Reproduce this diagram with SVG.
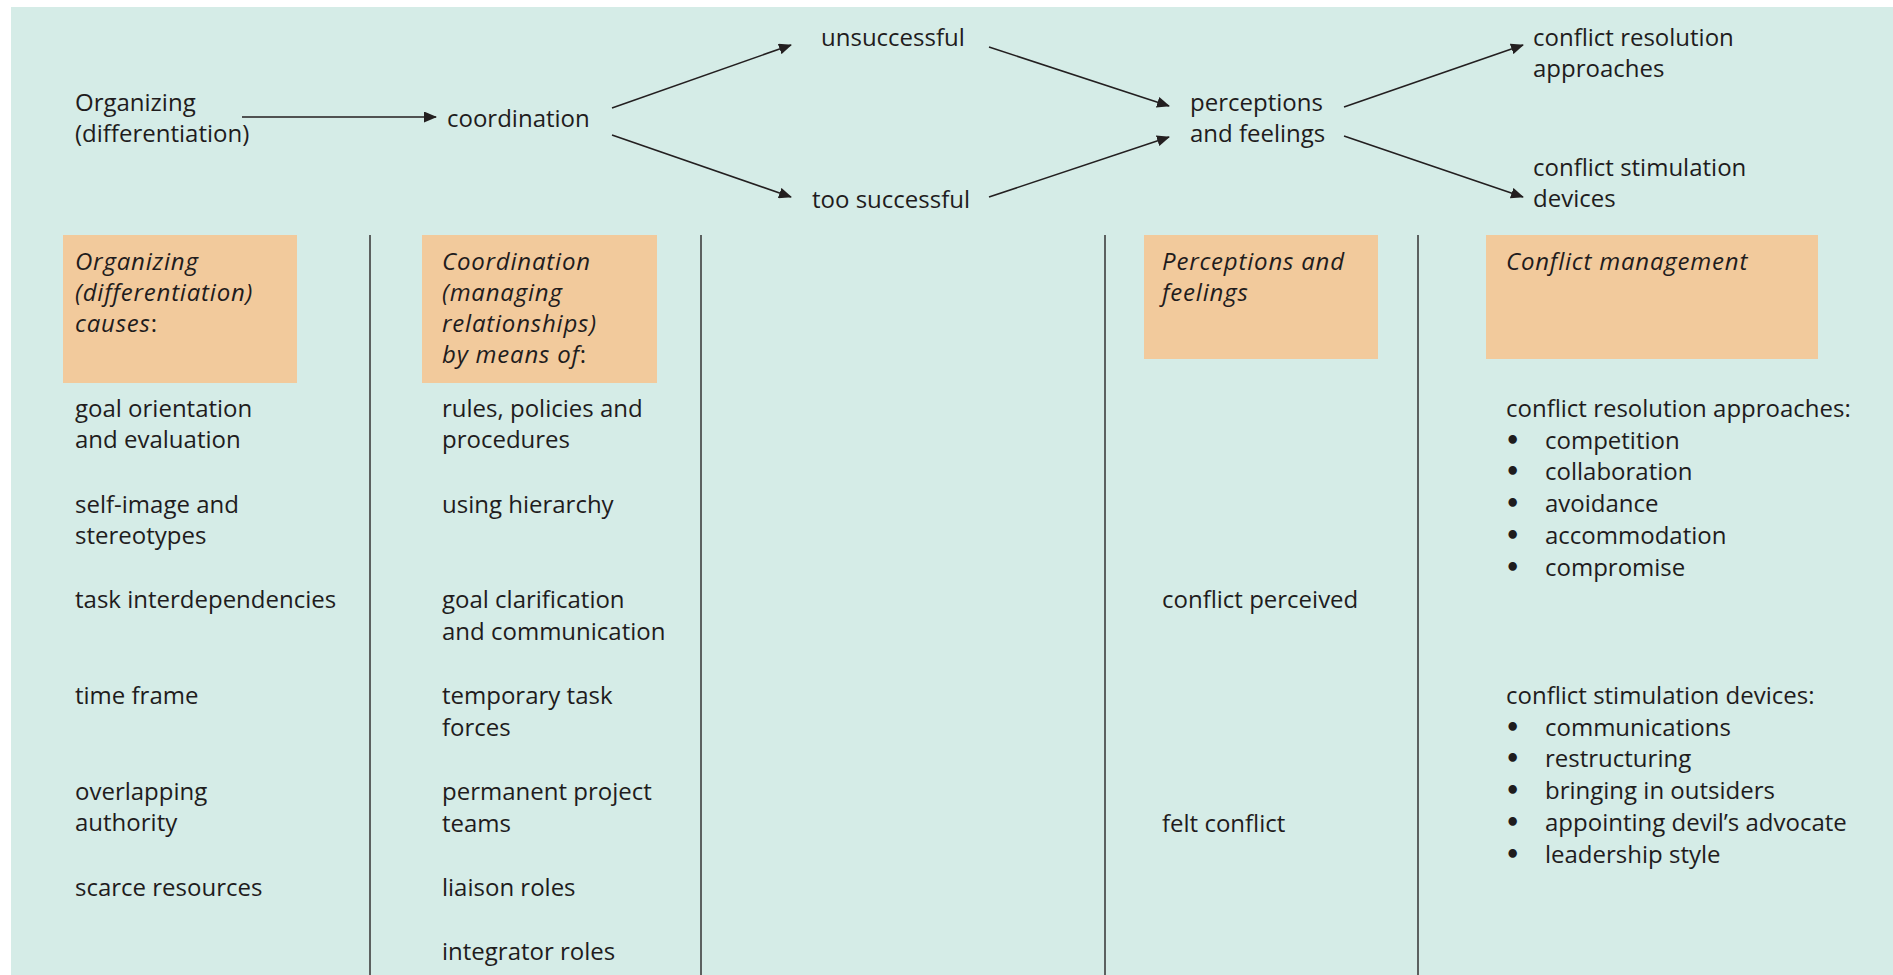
<svg xmlns="http://www.w3.org/2000/svg" width="1893" height="975" viewBox="0 0 1893 975">
<defs>
<style>
text{font-family:"Open Sans","Noto Sans","Liberation Sans",sans-serif;font-size:24px;fill:#1f1c1d}
.it{font-style:italic;letter-spacing:0.8px;font-variant-ligatures:none}
.b{font-family:"DejaVu Sans",sans-serif;font-weight:bold}
.box{fill:#f2ca9c}
.col{stroke:#333;stroke-width:1.5;fill:none}
.arr{stroke:#231f20;stroke-width:1.6;fill:none;marker-end:url(#ah)}
</style>
<marker id="ah" viewBox="0 0 13 11" refX="12" refY="5.5" markerWidth="13" markerHeight="11" markerUnits="userSpaceOnUse" orient="auto">
<path d="M0,0 L13,5.5 L0,11 Z" fill="#231f20"/>
</marker>
</defs>
<rect x="0" y="0" width="1893" height="975" fill="#ffffff"/>
<rect x="11" y="7" width="1882" height="968" fill="#d5ece7"/>

<g id="columns">
<line class="col" x1="370" y1="235" x2="370" y2="975"/>
<line class="col" x1="701" y1="235" x2="701" y2="975"/>
<line class="col" x1="1105" y1="235" x2="1105" y2="975"/>
<line class="col" x1="1418" y1="235" x2="1418" y2="975"/>
</g>

<g id="connectors">
<line class="arr" x1="242" y1="117" x2="436" y2="117"/>
<line class="arr" x1="612" y1="108" x2="791" y2="45"/>
<line class="arr" x1="612" y1="135" x2="791" y2="197"/>
<line class="arr" x1="989" y1="47" x2="1169" y2="106"/>
<line class="arr" x1="989" y1="197" x2="1169" y2="137"/>
<line class="arr" x1="1344" y1="107" x2="1523" y2="45"/>
<line class="arr" x1="1344" y1="136" x2="1523" y2="197"/>
</g>

<g id="n-organizing"><text x="75" y="111">Organizing</text><text x="75" y="142">(differentiation)</text></g>
<g id="n-coordination"><text x="447" y="127">coordination</text></g>
<g id="n-unsuccessful"><text x="821" y="46">unsuccessful</text></g>
<g id="n-toosuccessful"><text x="812" y="208">too successful</text></g>
<g id="n-perceptions"><text x="1190" y="111">perceptions</text><text x="1190" y="142">and feelings</text></g>
<g id="n-resolution"><text x="1533" y="46">conflict resolution</text><text x="1533" y="77">approaches</text></g>
<g id="n-stimulation"><text x="1533" y="176">conflict stimulation</text><text x="1533" y="207">devices</text></g>

<g id="h-organizing">
<rect class="box" x="63" y="235" width="234" height="148"/>
<text class="it" x="75" y="270">Organizing</text>
<text class="it" x="75" y="301">(differentiation)</text>
<text x="75" y="332"><tspan class="it">causes</tspan>:</text>
</g>
<g id="h-coordination">
<rect class="box" x="422" y="235" width="235" height="148"/>
<text class="it" x="442" y="270">Coordination</text>
<text class="it" x="442" y="301">(managing</text>
<text class="it" x="442" y="332">relationships)</text>
<text x="442" y="363"><tspan class="it">by means of</tspan>:</text>
</g>
<g id="h-perceptions">
<rect class="box" x="1144" y="235" width="234" height="124"/>
<text class="it" x="1162" y="270">Perceptions and</text>
<text class="it" x="1162" y="301">feelings</text>
</g>
<g id="h-conflict">
<rect class="box" x="1486" y="235" width="332" height="124"/>
<text class="it" x="1506" y="270">Conflict management</text>
</g>

<g id="list-causes">
<text x="75" y="417">goal orientation</text>
<text x="75" y="448">and evaluation</text>
<text x="75" y="513">self-image and</text>
<text x="75" y="544">stereotypes</text>
<text x="75" y="608">task interdependencies</text>
<text x="75" y="704">time frame</text>
<text x="75" y="800">overlapping</text>
<text x="75" y="831">authority</text>
<text x="75" y="896">scarce resources</text>
</g>
<g id="list-means">
<text x="442" y="417">rules, policies and</text>
<text x="442" y="448">procedures</text>
<text x="442" y="513">using hierarchy</text>
<text x="442" y="608">goal clarification</text>
<text x="442" y="640">and communication</text>
<text x="442" y="704">temporary task</text>
<text x="442" y="736">forces</text>
<text x="442" y="800">permanent project</text>
<text x="442" y="832">teams</text>
<text x="442" y="896">liaison roles</text>
<text x="442" y="960">integrator roles</text>
</g>
<g id="list-perceptions">
<text x="1162" y="608">conflict perceived</text>
<text x="1162" y="832">felt conflict</text>
</g>
<g id="list-management">
<text x="1506" y="417">conflict resolution approaches:</text>
<text x="1505" y="448.7"><tspan class="b">•</tspan><tspan x="1545">competition</tspan></text>
<text x="1505" y="480.4"><tspan class="b">•</tspan><tspan x="1545">collaboration</tspan></text>
<text x="1505" y="512.1"><tspan class="b">•</tspan><tspan x="1545">avoidance</tspan></text>
<text x="1505" y="543.8"><tspan class="b">•</tspan><tspan x="1545">accommodation</tspan></text>
<text x="1505" y="575.5"><tspan class="b">•</tspan><tspan x="1545">compromise</tspan></text>
<text x="1506" y="704">conflict stimulation devices:</text>
<text x="1505" y="735.7"><tspan class="b">•</tspan><tspan x="1545">communications</tspan></text>
<text x="1505" y="767.4"><tspan class="b">•</tspan><tspan x="1545">restructuring</tspan></text>
<text x="1505" y="799.1"><tspan class="b">•</tspan><tspan x="1545">bringing in outsiders</tspan></text>
<text x="1505" y="830.8"><tspan class="b">•</tspan><tspan x="1545">appointing devil’s advocate</tspan></text>
<text x="1505" y="862.5"><tspan class="b">•</tspan><tspan x="1545">leadership style</tspan></text>
</g>
</svg>
